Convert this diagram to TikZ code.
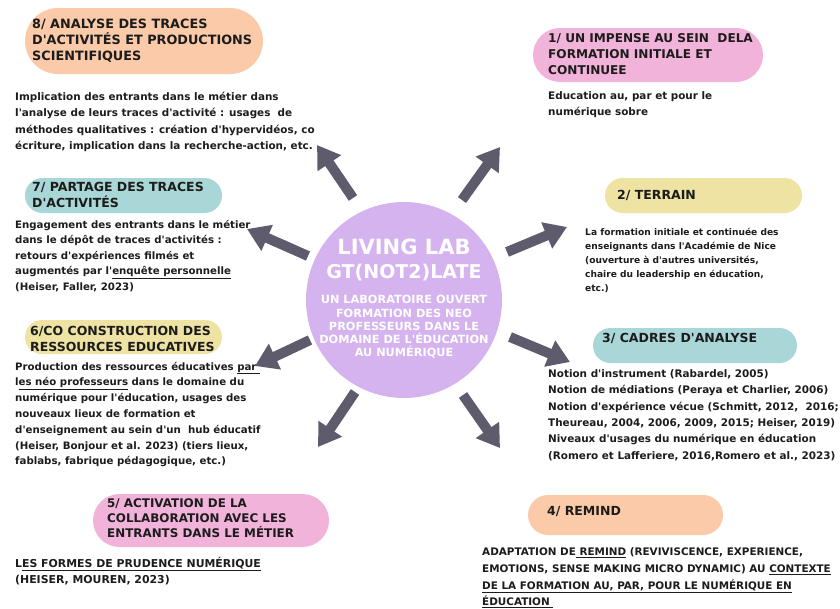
\documentclass[tikz,border=0pt]{standalone}
\usepackage{fontspec}
\newfontfamily\dv{DejaVu Sans}
\usetikzlibrary{arrows.meta}
\definecolor{peach}{HTML}{FBCBA9}
\definecolor{pinkb}{HTML}{F2B3DA}
\definecolor{tealb}{HTML}{A9D6D6}
\definecolor{yellowb}{HTML}{EEE3A2}
\definecolor{lilac}{HTML}{D5B3EF}
\definecolor{arrowc}{HTML}{5E5C6C}
\definecolor{ink}{HTML}{1C1C1C}
\begin{document}
\begin{tikzpicture}[x=1pt,y=-1pt,
  pill/.style={draw=none, inner sep=0pt, rectangle},
  head/.style={anchor=west, align=left, inner sep=0pt, text=ink,
    font=\dv\bfseries\fontsize{12.5}{16}\selectfont},
  body/.style={anchor=west, align=left, inner sep=0pt, text=ink,
    font=\dv\bfseries\fontsize{10.4}{16}\selectfont},
  bigarrow/.style={draw=arrowc, line width=10pt,
    -{Triangle[length=22pt,width=27pt]}},
]
\useasboundingbox (0,0) rectangle (840,608);
\fill[white] (0,0) rectangle (840,608);

% central circle
\node[circle, fill=lilac, minimum size=196pt, inner sep=0pt] (c) at (404,300) {};
\node[text=white, align=center, inner sep=0pt,
  font=\dv\bfseries\fontsize{20}{24}\selectfont] (title) at (404,260)
  {{\fontsize{21}{24}\selectfont LIVING LAB}\\{\fontsize{19}{24}\selectfont GT(NOT2)LATE}};
\node[text=white, align=center, inner sep=0pt,
  font=\dv\bfseries\fontsize{11.3}{13.2}\selectfont] (sub) at (404,327)
  {UN LABORATOIRE OUVERT\\FORMATION DES NEO\\PROFESSEURS DANS LE\\DOMAINE DE L'ÉDUCATION\\AU NUMÉRIQUE};

% pills
\node[pill, fill=peach, minimum width=238pt, minimum height=66pt, rounded corners=33pt] (p8) at (144,41) {};
\node[pill, fill=pinkb, minimum width=230pt, minimum height=54pt, rounded corners=27pt] (p1) at (648,55) {};
\node[pill, fill=tealb, minimum width=197pt, minimum height=35pt, rounded corners=17.5pt] (p7) at (123.5,195.5) {};
\node[pill, fill=yellowb, minimum width=197pt, minimum height=35pt, rounded corners=17.5pt] (p2) at (703.5,195.5) {};
\node[pill, fill=yellowb, minimum width=197pt, minimum height=34pt, rounded corners=17pt] (p6) at (123.5,337) {};
\node[pill, fill=tealb, minimum width=204pt, minimum height=35pt, rounded corners=17.5pt] (p3) at (695,345.5) {};
\node[pill, fill=pinkb, minimum width=236pt, minimum height=53pt, rounded corners=26.5pt] (p5) at (211,520.5) {};
\node[pill, fill=peach, minimum width=195pt, minimum height=40pt, rounded corners=20pt] (p4) at (625.5,515) {};

% headings
\node[head, font=\dv\bfseries\fontsize{12.8}{16.3}\selectfont] (h8) at (32,40.5) {8/ ANALYSE DES TRACES\\D'ACTIVITÉS ET PRODUCTIONS\\SCIENTIFIQUES};
\node[head, font=\dv\bfseries\fontsize{12.1}{16.3}\selectfont] (h1) at (548,54) {1/ UN IMPENSE AU SEIN\ \ DELA\\FORMATION INITIALE ET\\CONTINUEE};
\node[head] (h7) at (32,194.5) {7/ PARTAGE DES TRACES\\D'ACTIVITÉS};
\node[head] (h2) at (617,195) {2/ TERRAIN};
\node[head] (h6) at (30,339) {6/CO CONSTRUCTION DES\\RESSOURCES EDUCATIVES};
\node[head] (h3) at (602,338) {3/ CADRES D'ANALYSE};
\node[head, font=\dv\bfseries\fontsize{11.9}{15.3}\selectfont] (h5) at (107,518) {5/ ACTIVATION DE LA\\COLLABORATION AVEC LES\\ENTRANTS DANS LE MÉTIER};
\node[head] (h4) at (547,512) {4/ REMIND};

% bodies
\node[body, font=\dv\bfseries\fontsize{10.4}{16.6}\selectfont] (b8) at (15,122) {Implication des entrants dans le métier dans\\l'analyse de leurs traces d'activité : usages\ \ de\\méthodes qualitatives : création d'hypervidéos, co\\écriture, implication dans la recherche-action, etc.};
\node[body] (b1) at (548,105) {Education au, par et pour le\\numérique sobre};
\node[body, font=\dv\bfseries\fontsize{10.2}{15.6}\selectfont] (b7) at (15,256) {Engagement des entrants dans le métier\\dans le dépôt de traces d'activités :\\retours d'expériences filmés et\\augmentés par l'\underline{enquête personnelle}\\(Heiser, Faller, 2023)};
\node[body, font=\dv\bfseries\fontsize{9.1}{14}\selectfont] (b2) at (585,260) {La formation initiale et continuée des\\enseignants dans l'Académie de Nice\\(ouverture à d'autres universités,\\chaire du leadership en éducation,\\etc.)};
\node[body, font=\dv\bfseries\fontsize{10.2}{15.8}\selectfont] (b6) at (15,414.5) {Production des ressources éducatives \underline{par\ }\\l\underline{es néo professeurs} dans le domaine du\\numérique pour l'éducation, usages des\\nouveaux lieux de formation et\\d'enseignement au sein d'un\ \ hub éducatif\\(Heiser, Bonjour et al. 2023) (tiers lieux,\\fablabs, fabrique pédagogique, etc.)};
\node[body, font=\dv\bfseries\fontsize{10.4}{16.4}\selectfont] (b3) at (548,415) {Notion d'instrument (Rabardel, 2005)\\Notion de médiations (Peraya et Charlier, 2006)\\Notion d'expérience vécue (Schmitt, 2012,\ \ 2016;\\Theureau, 2004, 2006, 2009, 2015; Heiser, 2019)\\Niveaux d'usages du numérique en éducation\\(Romero et Lafferiere, 2016,Romero et al., 2023)};
\node[body, font=\dv\bfseries\fontsize{10.9}{16}\selectfont] (b5) at (15,571) {L\underline{ES FORMES DE PRUDENCE NUMÉRIQUE}\\(HEISER, MOUREN, 2023)};
\node[body, font=\dv\bfseries\fontsize{10.4}{16.7}\selectfont] (b4) at (482,578) {ADAPTATION DE\underline{\ REMIND} (REVIVISCENCE, EXPERIENCE,\\EMOTIONS, SENSE MAKING MICRO DYNAMIC) AU \underline{CONTEXTE}\\\underline{DE LA FORMATION AU, PAR, POUR LE NUMÉRIQUE EN}\\\underline{ÉDUCATION\ }};

% arrows
\coordinate (s1) at (353,198); \coordinate (e1) at (317,145);
\coordinate (s2) at (462,200); \coordinate (e2) at (500,147);
\coordinate (s3) at (507,252); \coordinate (e3) at (567,227);
\coordinate (s4) at (510,337); \coordinate (e4) at (570,362);
\coordinate (s5) at (463,395); \coordinate (e5) at (500,448);
\coordinate (s6) at (355,392); \coordinate (e6) at (318,447);
\coordinate (s7) at (310,340); \coordinate (e7) at (255,366);
\coordinate (s8) at (308,256); \coordinate (e8) at (247,229);
\foreach \i in {1,...,8} {\draw[bigarrow] (s\i) -- (e\i);}
\end{tikzpicture}
\end{document}
